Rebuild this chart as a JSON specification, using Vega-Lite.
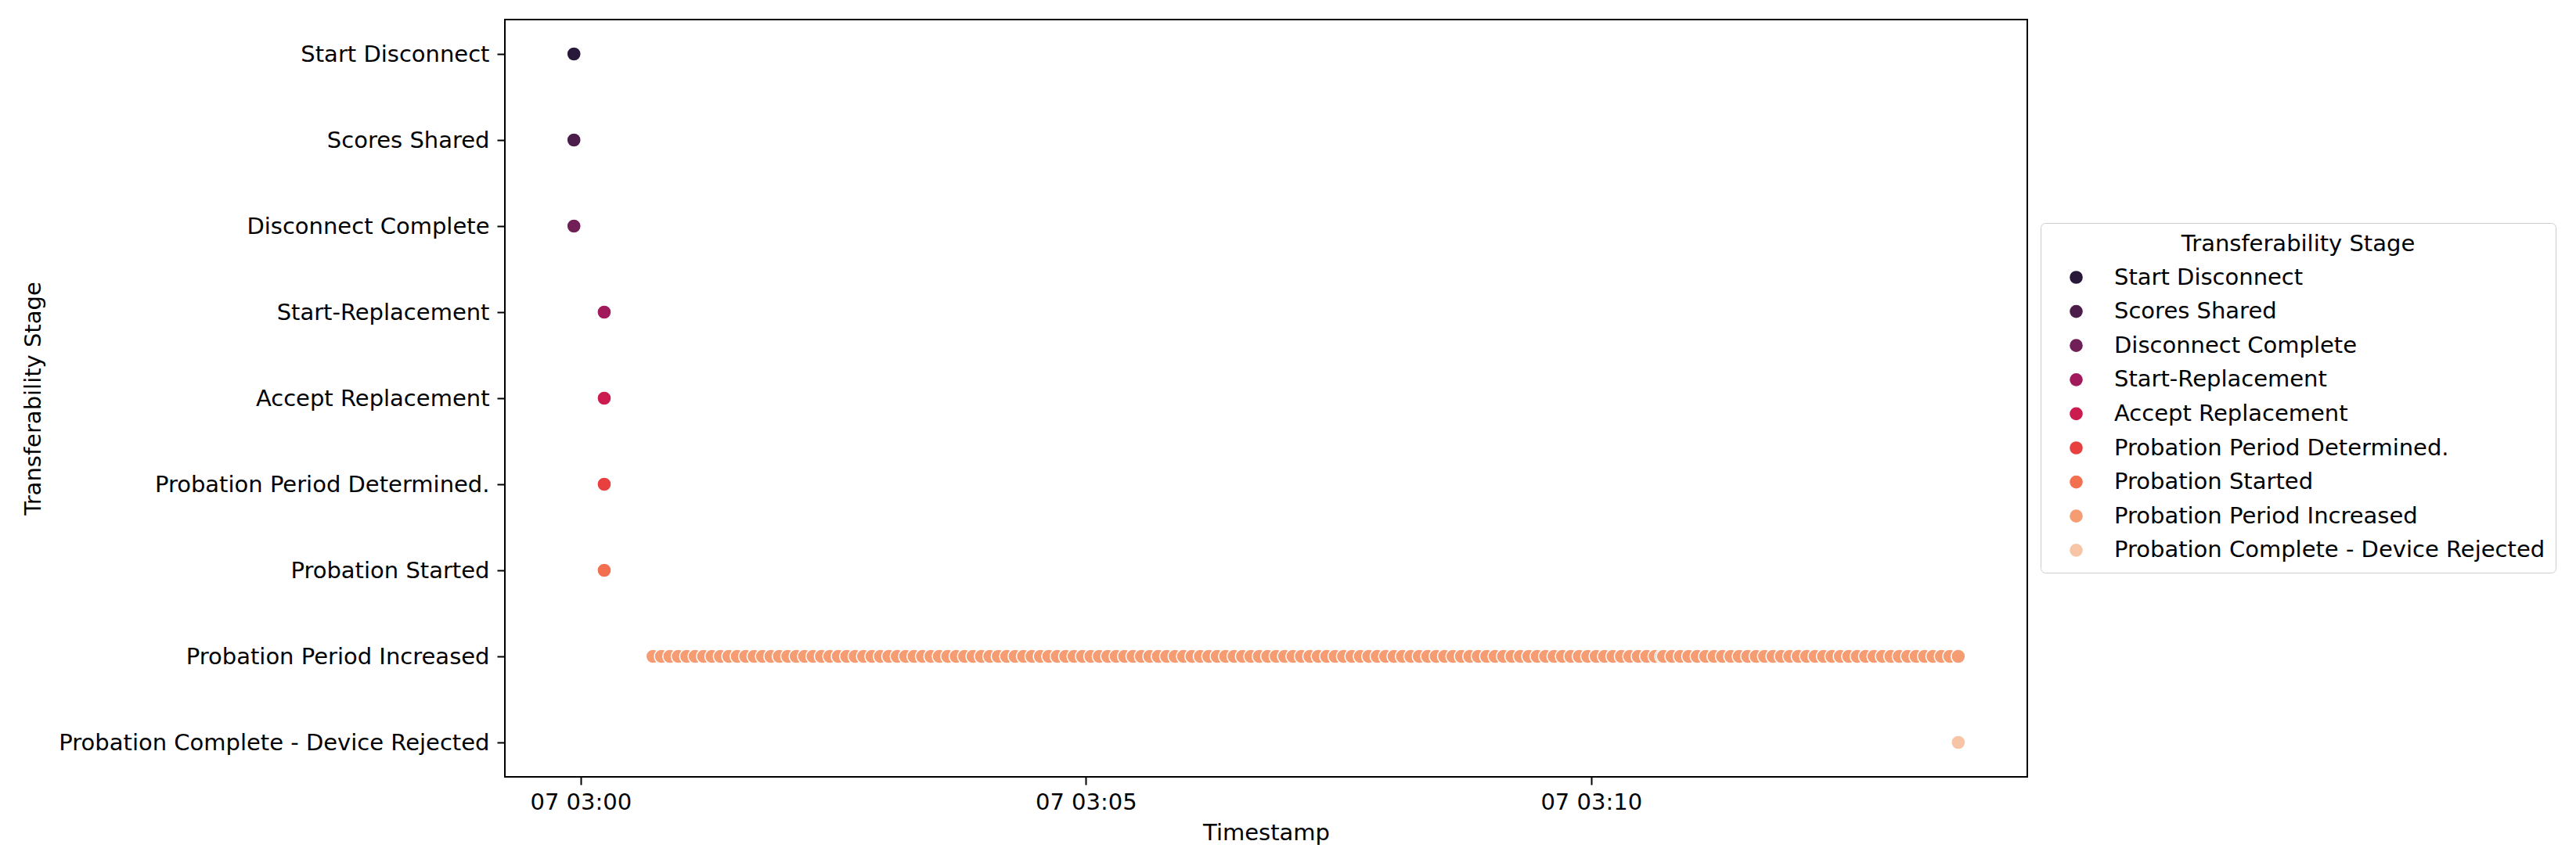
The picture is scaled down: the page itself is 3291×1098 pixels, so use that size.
{
  "$schema": "https://vega.github.io/schema/vega-lite/v6.json",
  "width": 1945,
  "height": 968,
  "autosize": "none",
  "padding": {"left": 645, "top": 25, "right": 701, "bottom": 105},
  "background": "white",
  "config": {
    "view": {"stroke": "black", "strokeWidth": 2},
    "font": "DejaVu Sans",
    "axis": {
      "labelFont": "DejaVu Sans", "labelFontSize": 29, "labelColor": "black", "labelLimit": 0,
      "titleFont": "DejaVu Sans", "titleFontSize": 29, "titleFontWeight": "normal", "titleColor": "black", "titleLimit": 0,
      "tickColor": "black", "tickWidth": 2, "tickSize": 10,
      "domain": false, "grid": false
    },
    "legend": {
      "labelFont": "DejaVu Sans", "labelFontSize": 29, "labelColor": "black", "labelLimit": 0,
      "titleFont": "DejaVu Sans", "titleFontSize": 29, "titleFontWeight": "normal", "titleColor": "black", "titleLimit": 0
    }
  },
  "data": {
    "values": [
      {"t": "2024-01-07T02:59:56", "s": "Start Disconnect"},
      {"t": "2024-01-07T02:59:56", "s": "Scores Shared"},
      {"t": "2024-01-07T02:59:56", "s": "Disconnect Complete"},
      {"t": "2024-01-07T03:00:14", "s": "Start-Replacement"},
      {"t": "2024-01-07T03:00:14", "s": "Accept Replacement"},
      {"t": "2024-01-07T03:00:14", "s": "Probation Period Determined."},
      {"t": "2024-01-07T03:00:14", "s": "Probation Started"},
      {"t": "2024-01-07T03:00:43", "s": "Probation Period Increased"},
      {"t": "2024-01-07T03:00:48", "s": "Probation Period Increased"},
      {"t": "2024-01-07T03:00:53", "s": "Probation Period Increased"},
      {"t": "2024-01-07T03:00:58", "s": "Probation Period Increased"},
      {"t": "2024-01-07T03:01:03", "s": "Probation Period Increased"},
      {"t": "2024-01-07T03:01:08", "s": "Probation Period Increased"},
      {"t": "2024-01-07T03:01:13", "s": "Probation Period Increased"},
      {"t": "2024-01-07T03:01:18", "s": "Probation Period Increased"},
      {"t": "2024-01-07T03:01:23", "s": "Probation Period Increased"},
      {"t": "2024-01-07T03:01:28", "s": "Probation Period Increased"},
      {"t": "2024-01-07T03:01:33", "s": "Probation Period Increased"},
      {"t": "2024-01-07T03:01:38", "s": "Probation Period Increased"},
      {"t": "2024-01-07T03:01:43", "s": "Probation Period Increased"},
      {"t": "2024-01-07T03:01:48", "s": "Probation Period Increased"},
      {"t": "2024-01-07T03:01:53", "s": "Probation Period Increased"},
      {"t": "2024-01-07T03:01:58", "s": "Probation Period Increased"},
      {"t": "2024-01-07T03:02:03", "s": "Probation Period Increased"},
      {"t": "2024-01-07T03:02:08", "s": "Probation Period Increased"},
      {"t": "2024-01-07T03:02:13", "s": "Probation Period Increased"},
      {"t": "2024-01-07T03:02:18", "s": "Probation Period Increased"},
      {"t": "2024-01-07T03:02:23", "s": "Probation Period Increased"},
      {"t": "2024-01-07T03:02:28", "s": "Probation Period Increased"},
      {"t": "2024-01-07T03:02:33", "s": "Probation Period Increased"},
      {"t": "2024-01-07T03:02:38", "s": "Probation Period Increased"},
      {"t": "2024-01-07T03:02:43", "s": "Probation Period Increased"},
      {"t": "2024-01-07T03:02:48", "s": "Probation Period Increased"},
      {"t": "2024-01-07T03:02:53", "s": "Probation Period Increased"},
      {"t": "2024-01-07T03:02:58", "s": "Probation Period Increased"},
      {"t": "2024-01-07T03:03:03", "s": "Probation Period Increased"},
      {"t": "2024-01-07T03:03:08", "s": "Probation Period Increased"},
      {"t": "2024-01-07T03:03:13", "s": "Probation Period Increased"},
      {"t": "2024-01-07T03:03:18", "s": "Probation Period Increased"},
      {"t": "2024-01-07T03:03:23", "s": "Probation Period Increased"},
      {"t": "2024-01-07T03:03:28", "s": "Probation Period Increased"},
      {"t": "2024-01-07T03:03:33", "s": "Probation Period Increased"},
      {"t": "2024-01-07T03:03:38", "s": "Probation Period Increased"},
      {"t": "2024-01-07T03:03:43", "s": "Probation Period Increased"},
      {"t": "2024-01-07T03:03:48", "s": "Probation Period Increased"},
      {"t": "2024-01-07T03:03:53", "s": "Probation Period Increased"},
      {"t": "2024-01-07T03:03:58", "s": "Probation Period Increased"},
      {"t": "2024-01-07T03:04:03", "s": "Probation Period Increased"},
      {"t": "2024-01-07T03:04:08", "s": "Probation Period Increased"},
      {"t": "2024-01-07T03:04:13", "s": "Probation Period Increased"},
      {"t": "2024-01-07T03:04:18", "s": "Probation Period Increased"},
      {"t": "2024-01-07T03:04:23", "s": "Probation Period Increased"},
      {"t": "2024-01-07T03:04:28", "s": "Probation Period Increased"},
      {"t": "2024-01-07T03:04:33", "s": "Probation Period Increased"},
      {"t": "2024-01-07T03:04:38", "s": "Probation Period Increased"},
      {"t": "2024-01-07T03:04:43", "s": "Probation Period Increased"},
      {"t": "2024-01-07T03:04:48", "s": "Probation Period Increased"},
      {"t": "2024-01-07T03:04:53", "s": "Probation Period Increased"},
      {"t": "2024-01-07T03:04:58", "s": "Probation Period Increased"},
      {"t": "2024-01-07T03:05:03", "s": "Probation Period Increased"},
      {"t": "2024-01-07T03:05:08", "s": "Probation Period Increased"},
      {"t": "2024-01-07T03:05:13", "s": "Probation Period Increased"},
      {"t": "2024-01-07T03:05:18", "s": "Probation Period Increased"},
      {"t": "2024-01-07T03:05:23", "s": "Probation Period Increased"},
      {"t": "2024-01-07T03:05:28", "s": "Probation Period Increased"},
      {"t": "2024-01-07T03:05:33", "s": "Probation Period Increased"},
      {"t": "2024-01-07T03:05:38", "s": "Probation Period Increased"},
      {"t": "2024-01-07T03:05:43", "s": "Probation Period Increased"},
      {"t": "2024-01-07T03:05:48", "s": "Probation Period Increased"},
      {"t": "2024-01-07T03:05:53", "s": "Probation Period Increased"},
      {"t": "2024-01-07T03:05:58", "s": "Probation Period Increased"},
      {"t": "2024-01-07T03:06:03", "s": "Probation Period Increased"},
      {"t": "2024-01-07T03:06:08", "s": "Probation Period Increased"},
      {"t": "2024-01-07T03:06:13", "s": "Probation Period Increased"},
      {"t": "2024-01-07T03:06:18", "s": "Probation Period Increased"},
      {"t": "2024-01-07T03:06:23", "s": "Probation Period Increased"},
      {"t": "2024-01-07T03:06:28", "s": "Probation Period Increased"},
      {"t": "2024-01-07T03:06:33", "s": "Probation Period Increased"},
      {"t": "2024-01-07T03:06:38", "s": "Probation Period Increased"},
      {"t": "2024-01-07T03:06:43", "s": "Probation Period Increased"},
      {"t": "2024-01-07T03:06:48", "s": "Probation Period Increased"},
      {"t": "2024-01-07T03:06:53", "s": "Probation Period Increased"},
      {"t": "2024-01-07T03:06:58", "s": "Probation Period Increased"},
      {"t": "2024-01-07T03:07:03", "s": "Probation Period Increased"},
      {"t": "2024-01-07T03:07:08", "s": "Probation Period Increased"},
      {"t": "2024-01-07T03:07:13", "s": "Probation Period Increased"},
      {"t": "2024-01-07T03:07:18", "s": "Probation Period Increased"},
      {"t": "2024-01-07T03:07:23", "s": "Probation Period Increased"},
      {"t": "2024-01-07T03:07:28", "s": "Probation Period Increased"},
      {"t": "2024-01-07T03:07:33", "s": "Probation Period Increased"},
      {"t": "2024-01-07T03:07:38", "s": "Probation Period Increased"},
      {"t": "2024-01-07T03:07:43", "s": "Probation Period Increased"},
      {"t": "2024-01-07T03:07:48", "s": "Probation Period Increased"},
      {"t": "2024-01-07T03:07:53", "s": "Probation Period Increased"},
      {"t": "2024-01-07T03:07:58", "s": "Probation Period Increased"},
      {"t": "2024-01-07T03:08:03", "s": "Probation Period Increased"},
      {"t": "2024-01-07T03:08:08", "s": "Probation Period Increased"},
      {"t": "2024-01-07T03:08:13", "s": "Probation Period Increased"},
      {"t": "2024-01-07T03:08:18", "s": "Probation Period Increased"},
      {"t": "2024-01-07T03:08:23", "s": "Probation Period Increased"},
      {"t": "2024-01-07T03:08:28", "s": "Probation Period Increased"},
      {"t": "2024-01-07T03:08:33", "s": "Probation Period Increased"},
      {"t": "2024-01-07T03:08:38", "s": "Probation Period Increased"},
      {"t": "2024-01-07T03:08:43", "s": "Probation Period Increased"},
      {"t": "2024-01-07T03:08:48", "s": "Probation Period Increased"},
      {"t": "2024-01-07T03:08:53", "s": "Probation Period Increased"},
      {"t": "2024-01-07T03:08:58", "s": "Probation Period Increased"},
      {"t": "2024-01-07T03:09:03", "s": "Probation Period Increased"},
      {"t": "2024-01-07T03:09:08", "s": "Probation Period Increased"},
      {"t": "2024-01-07T03:09:13", "s": "Probation Period Increased"},
      {"t": "2024-01-07T03:09:18", "s": "Probation Period Increased"},
      {"t": "2024-01-07T03:09:23", "s": "Probation Period Increased"},
      {"t": "2024-01-07T03:09:28", "s": "Probation Period Increased"},
      {"t": "2024-01-07T03:09:33", "s": "Probation Period Increased"},
      {"t": "2024-01-07T03:09:38", "s": "Probation Period Increased"},
      {"t": "2024-01-07T03:09:43", "s": "Probation Period Increased"},
      {"t": "2024-01-07T03:09:48", "s": "Probation Period Increased"},
      {"t": "2024-01-07T03:09:53", "s": "Probation Period Increased"},
      {"t": "2024-01-07T03:09:58", "s": "Probation Period Increased"},
      {"t": "2024-01-07T03:10:03", "s": "Probation Period Increased"},
      {"t": "2024-01-07T03:10:08", "s": "Probation Period Increased"},
      {"t": "2024-01-07T03:10:13", "s": "Probation Period Increased"},
      {"t": "2024-01-07T03:10:18", "s": "Probation Period Increased"},
      {"t": "2024-01-07T03:10:23", "s": "Probation Period Increased"},
      {"t": "2024-01-07T03:10:28", "s": "Probation Period Increased"},
      {"t": "2024-01-07T03:10:33", "s": "Probation Period Increased"},
      {"t": "2024-01-07T03:10:38", "s": "Probation Period Increased"},
      {"t": "2024-01-07T03:10:42", "s": "Probation Period Increased"},
      {"t": "2024-01-07T03:10:43", "s": "Probation Period Increased"},
      {"t": "2024-01-07T03:10:48", "s": "Probation Period Increased"},
      {"t": "2024-01-07T03:10:53", "s": "Probation Period Increased"},
      {"t": "2024-01-07T03:10:58", "s": "Probation Period Increased"},
      {"t": "2024-01-07T03:11:03", "s": "Probation Period Increased"},
      {"t": "2024-01-07T03:11:08", "s": "Probation Period Increased"},
      {"t": "2024-01-07T03:11:13", "s": "Probation Period Increased"},
      {"t": "2024-01-07T03:11:18", "s": "Probation Period Increased"},
      {"t": "2024-01-07T03:11:23", "s": "Probation Period Increased"},
      {"t": "2024-01-07T03:11:28", "s": "Probation Period Increased"},
      {"t": "2024-01-07T03:11:33", "s": "Probation Period Increased"},
      {"t": "2024-01-07T03:11:38", "s": "Probation Period Increased"},
      {"t": "2024-01-07T03:11:43", "s": "Probation Period Increased"},
      {"t": "2024-01-07T03:11:48", "s": "Probation Period Increased"},
      {"t": "2024-01-07T03:11:53", "s": "Probation Period Increased"},
      {"t": "2024-01-07T03:11:58", "s": "Probation Period Increased"},
      {"t": "2024-01-07T03:12:03", "s": "Probation Period Increased"},
      {"t": "2024-01-07T03:12:08", "s": "Probation Period Increased"},
      {"t": "2024-01-07T03:12:13", "s": "Probation Period Increased"},
      {"t": "2024-01-07T03:12:18", "s": "Probation Period Increased"},
      {"t": "2024-01-07T03:12:23", "s": "Probation Period Increased"},
      {"t": "2024-01-07T03:12:28", "s": "Probation Period Increased"},
      {"t": "2024-01-07T03:12:33", "s": "Probation Period Increased"},
      {"t": "2024-01-07T03:12:38", "s": "Probation Period Increased"},
      {"t": "2024-01-07T03:12:43", "s": "Probation Period Increased"},
      {"t": "2024-01-07T03:12:48", "s": "Probation Period Increased"},
      {"t": "2024-01-07T03:12:53", "s": "Probation Period Increased"},
      {"t": "2024-01-07T03:12:58", "s": "Probation Period Increased"},
      {"t": "2024-01-07T03:13:03", "s": "Probation Period Increased"},
      {"t": "2024-01-07T03:13:08", "s": "Probation Period Increased"},
      {"t": "2024-01-07T03:13:13", "s": "Probation Period Increased"},
      {"t": "2024-01-07T03:13:18", "s": "Probation Period Increased"},
      {"t": "2024-01-07T03:13:23", "s": "Probation Period Increased"},
      {"t": "2024-01-07T03:13:28", "s": "Probation Period Increased"},
      {"t": "2024-01-07T03:13:33", "s": "Probation Period Increased"},
      {"t": "2024-01-07T03:13:38", "s": "Probation Period Increased"},
      {"t": "2024-01-07T03:13:38", "s": "Probation Complete - Device Rejected"}
    ]
  },
  "mark": {"type": "circle", "size": 330, "opacity": 1, "stroke": "white", "strokeWidth": 1.5},
  "encoding": {
    "x": {
      "field": "t", "type": "temporal", "title": "Timestamp",
      "scale": {
        "nice": false,
        "domain": [
          {"year": 2024, "month": 1, "date": 7, "hours": 2, "minutes": 59, "seconds": 15},
          {"year": 2024, "month": 1, "date": 7, "hours": 3, "minutes": 14, "seconds": 19}
        ]
      },
      "axis": {
        "values": [
          {"year": 2024, "month": 1, "date": 7, "hours": 3, "minutes": 0},
          {"year": 2024, "month": 1, "date": 7, "hours": 3, "minutes": 5},
          {"year": 2024, "month": 1, "date": 7, "hours": 3, "minutes": 10}
        ],
        "format": "%d %H:%M", "labelPadding": 8, "titlePadding": 10
      }
    },
    "y": {
      "field": "s", "type": "nominal", "title": "Transferability Stage",
      "sort": ["Start Disconnect", "Scores Shared", "Disconnect Complete", "Start-Replacement", "Accept Replacement", "Probation Period Determined.", "Probation Started", "Probation Period Increased", "Probation Complete - Device Rejected"],
      "scale": {"type": "point", "padding": 0.4},
      "axis": {"labelPadding": 10, "titleX": -603, "titleBaseline": "middle", "titleAngle": -90}
    },
    "color": {
      "field": "s", "type": "nominal", "title": "Transferability Stage",
      "sort": ["Start Disconnect", "Scores Shared", "Disconnect Complete", "Start-Replacement", "Accept Replacement", "Probation Period Determined.", "Probation Started", "Probation Period Increased", "Probation Complete - Device Rejected"],
      "scale": {
        "domain": ["Start Disconnect", "Scores Shared", "Disconnect Complete", "Start-Replacement", "Accept Replacement", "Probation Period Determined.", "Probation Started", "Probation Period Increased", "Probation Complete - Device Rejected"],
        "range": ["#28193b", "#4c1d4b", "#701f57", "#a11a5b", "#cb1b4f", "#e83f3f", "#f2704f", "#f69c73", "#f7c5a5"]
      },
      "legend": {
        "orient": "none", "legendX": 1962, "legendY": 260,
        "padding": 13, "strokeColor": "#cccccc", "fillColor": "white", "cornerRadius": 6,
        "titleAnchor": "middle", "titlePadding": 13, "rowPadding": 13.6,
        "symbolType": "circle", "symbolSize": 330, "symbolOffset": 18, "labelOffset": 34,
        "symbolStrokeColor": "white", "symbolStrokeWidth": 1.5, "symbolOpacity": 1
      }
    }
  }
}
